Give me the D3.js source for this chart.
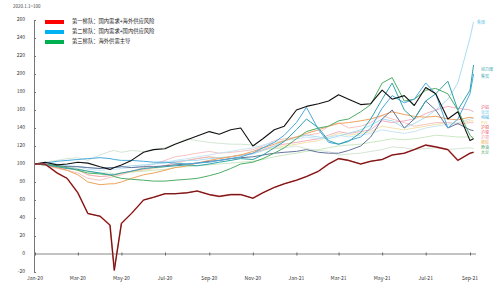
<!DOCTYPE html>
<html>
<head>
<meta charset="utf-8">
<script src="https://cdn.jsdelivr.net/npm/d3@7"></script>
<style>
  body { margin: 0; background: #fff; }
  svg { display: block; font-family: "Noto Sans CJK SC", "Noto Sans", sans-serif; }
</style>
</head>
<body>
<div class="chart-container"></div>
<script>
const totalWidth = 500;
const totalHeight = 288;

// 2020.1.1 = 100
const dates = [
  "2020-01-01","2020-01-15","2020-02-01","2020-02-15","2020-03-01","2020-03-15",
  "2020-04-01","2020-04-15","2020-04-21","2020-05-01","2020-05-15","2020-06-01",
  "2020-06-15","2020-07-01","2020-07-15","2020-08-01","2020-08-15","2020-09-01",
  "2020-09-15","2020-10-01","2020-10-15","2020-11-01","2020-11-15","2020-12-01",
  "2020-12-15","2021-01-01","2021-01-15","2021-02-01","2021-02-15","2021-03-01",
  "2021-03-15","2021-04-01","2021-04-15","2021-05-01","2021-05-15","2021-06-01",
  "2021-06-15","2021-07-01","2021-07-15","2021-08-01","2021-08-15","2021-09-01",
  "2021-09-06"
];

const crude = [100,100,90,84,68,45,42,32,-18,34,45,60,63,67,67,68,70,66,64,66,66,62,68,74,78,82,86,92,100,106,104,100,103,105,110,112,116,121,119,116,104,112,113];
const blackLine = [100,102,99,100,102,101,97,94,96,99,104,113,116,117,122,127,131,136,133,138,140,120,128,138,142,160,164,167,170,177,172,166,167,182,172,176,165,185,178,150,158,126,128];
const thermalCoal = [100,99,97,95,94,92,90,88,88,90,92,95,96,97,98,99,98,100,102,104,106,105,110,118,125,138,150,140,126,122,125,135,150,172,190,160,150,170,178,192,160,182,210];
const cokingCoal = [100,101,100,98,97,96,95,96,96,97,98,99,100,101,103,104,104,106,107,108,110,111,115,120,126,130,132,130,128,131,134,138,143,150,148,140,145,152,160,172,190,240,258];
const coke = [100,101,103,104,105,106,107,106,105,104,104,103,102,102,101,100,101,102,104,106,108,112,118,124,132,146,163,138,124,122,126,130,140,162,176,168,172,190,178,140,150,178,200];
const greenLine = [100,100,98,96,93,90,89,88,86,84,83,82,81,81,82,83,84,87,90,95,100,102,106,112,118,128,136,140,142,148,150,158,166,190,196,170,172,182,184,178,160,132,128];
const orangeLine = [100,99,96,93,88,80,77,78,78,80,84,88,90,93,96,98,101,104,106,108,110,114,118,122,126,130,134,138,142,145,146,148,150,154,158,155,153,152,153,150,149,152,151];
const slateLine = [100,99,98,97,97,96,95,96,96,97,96,97,97,98,99,100,101,103,104,106,107,108,110,112,113,114,116,113,112,112,115,120,130,150,160,140,150,170,160,140,145,138,137];
const pinkLine = [100,99,95,93,90,84,82,85,86,88,92,96,100,104,108,110,112,114,112,113,114,116,120,126,128,130,132,134,142,146,140,142,146,154,150,146,142,144,146,146,144,146,146];
const yellowLine = [100,99,97,95,93,88,86,87,87,89,91,93,95,97,100,104,106,108,107,108,110,112,115,118,120,122,124,126,130,134,132,134,136,142,140,138,140,142,144,146,145,148,148];
const paleGreen = [100,102,104,106,107,104,110,114,115,113,115,114,116,118,122,128,126,124,123,122,122,121,118,117,118,120,117,115,114,110,111,112,114,116,119,118,116,117,118,116,117,118,117];
const paleBlue = [100,100,99,98,97,94,93,94,94,95,96,98,100,102,104,106,108,110,112,114,116,118,121,124,126,128,130,128,130,132,130,132,134,138,136,134,136,140,142,144,146,150,151];
const rosyLine = [100,99,96,95,94,88,86,87,88,90,92,94,96,98,102,104,106,108,106,108,110,112,116,120,122,124,126,128,132,136,134,136,138,148,146,148,150,156,160,164,162,160,158];
const lightGreen = [100,100,98,97,95,92,90,90,89,90,91,92,93,94,96,97,98,99,100,101,102,103,105,108,110,112,114,116,118,120,121,122,124,126,128,127,128,130,132,131,130,130,130];

const yTicks = [-20,0,20,40,60,80,100,120,140,160,180,200,220,240,260];
const xTicks = ["2020-01-01","2020-03-01","2020-05-01","2020-07-01","2020-09-01","2020-11-01",
                "2021-01-01","2021-03-01","2021-05-01","2021-07-01","2021-09-01"];

const legendNames = ["第一梯队：国内需求+海外供应风险", "第二梯队：国内需求+国内供应风险", "第三梯队：海外供需主导"];
const legendColors = ["#ff0000", "#00b0f0", "#00b050"];

const topLabels = [
  {text: "焦煤", value: 258},
  {text: "动力煤", value: 204},
  {text: "焦炭", value: 196}
];
const sideLabels = ["沪铝","玻璃","纯碱","PVC","沪铜","沪镍","沪锡","橡胶","原油","大豆"];
const sideColors = ["#e8506e","#8fd3f2","#3fb0e0","#efcf7a","#e84848","#ee6478","#f28fa0","#f0b060","#3a9e5e","#5cb26e"];

const parse = d3.timeParse("%Y-%m-%d");
const dateValues = dates.map(parse);

const svg = d3.select(".chart-container")
  .append("svg")
  .attr("width", totalWidth)
  .attr("height", totalHeight);

const scaleX = d3.scaleTime()
  .domain([parse("2020-01-01"), parse("2021-09-01")])
  .range([35, 470]);

const scaleY = d3.scaleLinear()
  .domain([-20, 260])
  .range([272, 20]);

// y axis
const yAxis = svg.append("g")
  .attr("transform", "translate(34,0)")
  .call(d3.axisRight(scaleY).tickValues(yTicks).tickSize(2).tickFormat(""));
yAxis.select(".domain").attr("stroke", "#777");
yAxis.selectAll(".tick line").attr("stroke", "#777");

svg.append("g")
  .selectAll("text")
  .data(yTicks)
  .enter()
  .append("text")
  .attr("x", 25)
  .attr("y", d => scaleY(d))
  .attr("text-anchor", "end")
  .attr("dominant-baseline", "middle")
  .attr("font-size", 5)
  .attr("fill", "#333")
  .text(d => d);

// zero line with month ticks
const xAxis = svg.append("g")
  .attr("transform", `translate(0,${scaleY(0)})`)
  .call(d3.axisBottom(scaleX).tickValues(xTicks.map(parse)).tickSize(1.5).tickSizeOuter(0).tickFormat(""));
xAxis.select(".domain").attr("stroke", "#888").attr("d", `M34,0H476`);
xAxis.selectAll(".tick line").attr("stroke", "#666").attr("y1", -1.5);

const fmt = d3.timeFormat("%b-%y");
svg.append("g")
  .selectAll("text")
  .data(xTicks.map(parse))
  .enter()
  .append("text")
  .attr("x", d => scaleX(d))
  .attr("y", 279)
  .attr("text-anchor", "middle")
  .attr("dominant-baseline", "middle")
  .attr("font-size", 5)
  .attr("fill", "#333")
  .text(d => fmt(d));

svg.append("text")
  .attr("x", 13)
  .attr("y", 7)
  .attr("font-size", 4.5)
  .attr("fill", "#444")
  .attr("dominant-baseline", "middle")
  .text("2020.1.1=100");

// lines, faint first
const series = [
  {values: paleGreen, color: "#d4e6d4", width: 1},
  {values: lightGreen, color: "#c6e4bc", width: 0.9},
  {values: yellowLine, color: "#f1dfa2", width: 0.9},
  {values: pinkLine, color: "#f5bcbc", width: 0.9},
  {values: rosyLine, color: "#f0a8b6", width: 0.9},
  {values: paleBlue, color: "#c3e2f3", width: 0.9},
  {values: cokingCoal, color: "#9fd9ef", width: 0.9},
  {values: orangeLine, color: "#f0a35e", width: 1},
  {values: slateLine, color: "#64739a", width: 1},
  {values: greenLine, color: "#4fae66", width: 1},
  {values: coke, color: "#49aadd", width: 1},
  {values: thermalCoal, color: "#2fa4aa", width: 1},
  {values: blackLine, color: "#111111", width: 1.1},
  {values: crude, color: "#d06060", width: 1.6},
  {values: crude, color: "#6b1010", width: 1}
];

const line = d3.line()
  .x((d, i) => scaleX(dateValues[i]))
  .y(d => scaleY(d));

svg.append("g")
  .selectAll("path")
  .data(series)
  .enter()
  .append("path")
  .attr("fill", "none")
  .attr("stroke", d => d.color)
  .attr("stroke-width", d => d.width)
  .attr("stroke-linejoin", "round")
  .attr("d", d => line(d.values));

// legend
const legend = svg.append("g");
legendNames.forEach((name, i) => {
  legend.append("rect")
    .attr("x", 45)
    .attr("y", 20 + i * 10)
    .attr("width", 19)
    .attr("height", 4)
    .attr("fill", legendColors[i]);
  legend.append("text")
    .attr("x", 72)
    .attr("y", 22 + i * 10)
    .attr("font-size", 5.3)
    .attr("fill", "#222")
    .attr("dominant-baseline", "middle")
    .text(name);
});

// end labels
svg.append("text")
  .attr("x", 477).attr("y", scaleY(topLabels[0].value) + 1)
  .attr("font-size", 4).attr("fill", "#5cc3ea")
  .attr("dominant-baseline", "middle")
  .text(topLabels[0].text);
svg.append("text")
  .attr("x", 481).attr("y", 70)
  .attr("font-size", 4).attr("fill", "#2fa4aa")
  .attr("dominant-baseline", "middle")
  .text(topLabels[1].text);
svg.append("text")
  .attr("x", 481).attr("y", 76.5)
  .attr("font-size", 4).attr("fill", "#2fa4aa")
  .attr("dominant-baseline", "middle")
  .text(topLabels[2].text);

svg.append("g")
  .selectAll("text")
  .data(sideLabels)
  .enter()
  .append("text")
  .attr("x", 481)
  .attr("y", (d, i) => 108 + i * 4.95)
  .attr("font-size", 4)
  .attr("fill", (d, i) => sideColors[i])
  .attr("dominant-baseline", "middle")
  .text(d => d);
</script>
</body>
</html>
